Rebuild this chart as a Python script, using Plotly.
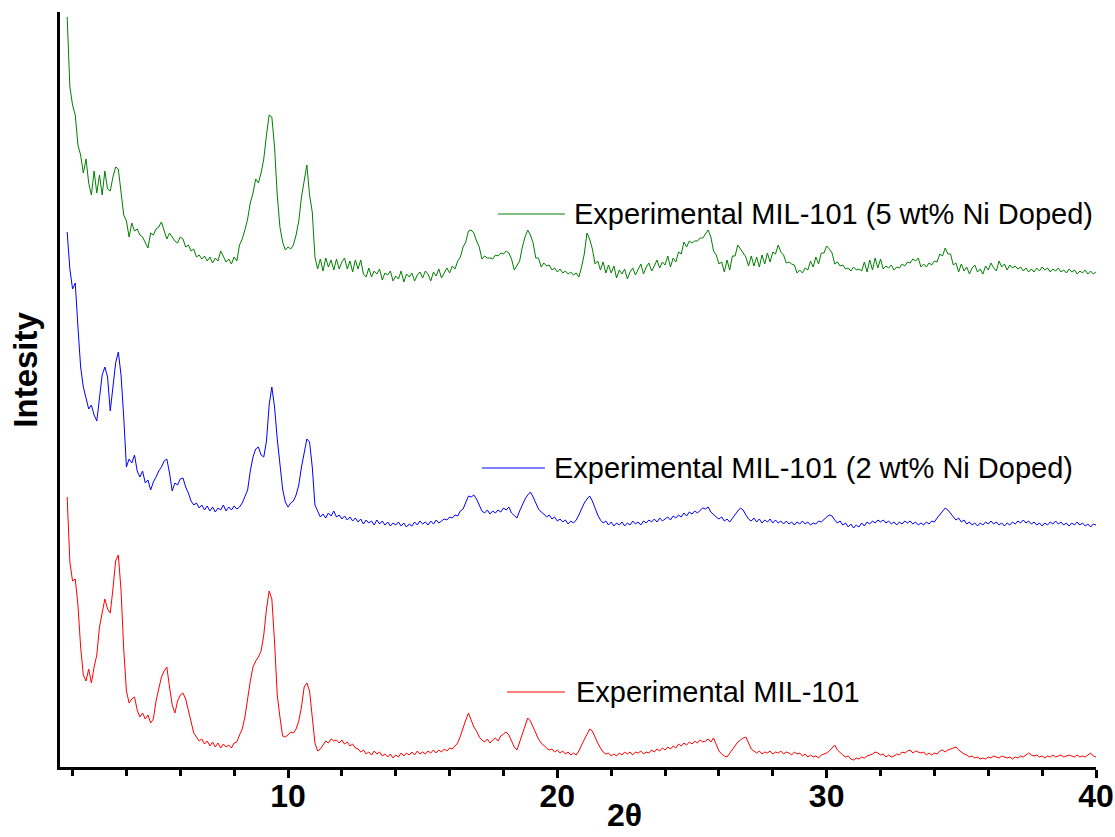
import plotly.graph_objects as go

# 2-theta sampling: 1.8 .. 40.0 in 0.1 deg steps
THETA_START = 1.8
THETA_STEP = 0.1

# Intensity (a.u.), as displayed (already vertically offset)
green_5wt = [
    750, 680,
    662, 652, 622, 612, 594, 608, 584, 572, 596, 574,
    592, 572, 596, 578, 576, 590, 600, 598, 575, 552,
    546, 530, 544, 536, 538, 532, 530, 524, 519, 534,
    532, 538, 540, 545, 536, 528, 534, 530, 526, 524,
    530, 528, 520, 522, 516, 518, 510, 512, 508, 511,
    506, 510, 504, 509, 506, 516, 510, 505, 508, 503,
    510, 506, 522, 528, 537, 548, 564, 574, 588, 584,
    594, 608, 632, 652, 650, 620, 572, 540, 525, 517,
    520, 518, 522, 532, 546, 570, 586, 602, 572, 555,
    510, 498, 508, 496, 509, 500, 507, 497, 508, 498,
    505, 509, 498, 506, 495, 507, 498, 507, 493, 490,
    499, 490, 496, 493, 498, 487, 494, 492, 496, 486,
    491, 488, 496, 485, 493, 490, 494, 486, 492, 495,
    489, 496, 493, 486, 495, 491, 498, 489, 494, 499,
    494, 501, 498, 506, 510, 520, 525, 536, 537, 534,
    526, 520, 508, 511, 509, 509, 508, 512, 511, 514,
    513, 516, 514, 508, 497, 502, 506, 520, 530, 537,
    532, 524, 509, 509, 500, 504, 501, 502, 497, 499,
    495, 498, 494, 496, 493, 495, 492, 494, 490, 500,
    513, 534, 528, 518, 503, 506, 497, 505, 494, 502,
    494, 501, 489, 497, 493, 498, 488, 495, 499, 492,
    497, 503, 493, 500, 504, 496, 501, 507, 499, 505,
    502, 511, 500, 509, 505, 515, 513, 525, 520, 526,
    524, 526, 526, 529, 529, 533, 537, 530, 516, 512,
    503, 505, 495, 507, 497, 511, 511, 522, 518, 514,
    510, 501, 511, 501, 510, 500, 512, 503, 514, 505,
    515, 513, 522, 515, 512, 504, 505, 503, 502, 494,
    497, 494, 499, 497, 506, 500, 510, 503, 514, 514,
    521, 518, 514, 503, 505, 501, 502, 498, 499, 496,
    500, 497, 498, 496, 505, 495, 507, 497, 509, 499,
    508, 498, 501, 499, 502, 497, 500, 499, 503, 501,
    505, 504, 508, 506, 509, 500, 503, 500, 504, 502,
    506, 505, 513, 511, 519, 513, 513, 502, 504, 495,
    503, 496, 500, 493, 499, 502, 495, 498, 493, 501,
    497, 504, 499, 496, 506, 500, 503, 497, 502, 499,
    501, 498, 500, 496, 499, 495, 498, 495, 499, 496,
    500, 497, 499, 495, 498, 496, 499, 495, 497, 494,
    498, 495, 497, 493, 496, 494, 497, 493, 496, 493,
    495,
]

blue_2wt = [
    535, 498,
    478, 484, 440, 400, 380, 368, 358, 362, 352, 346,
    368, 392, 400, 390, 356, 380, 404, 415, 392, 350,
    300, 308, 304, 312, 296, 290, 296, 284, 287, 277,
    285, 290, 296, 300, 306, 308, 294, 276, 284, 282,
    288, 289, 280, 274, 266, 262, 264, 259, 262, 257,
    261, 256, 260, 255, 259, 257, 262, 256, 260, 257,
    261, 258, 260, 264, 270, 277, 296, 310, 318, 320,
    312, 310, 326, 362, 380, 360, 328, 300, 278, 265,
    260, 264, 266, 272, 282, 300, 316, 328, 325, 300,
    262, 255, 250, 253, 249, 254, 251, 256, 250, 252,
    248, 251, 247, 250, 246, 249, 245, 248, 243, 247,
    244, 246, 242, 247, 243, 246, 242, 245, 241, 244,
    242, 245, 241, 244, 240, 243, 241, 245, 242, 246,
    243, 245, 242, 246, 243, 247, 244, 246, 248, 247,
    250, 249, 252, 251, 256, 258, 264, 271, 270, 272,
    268, 261, 256, 254, 257, 253, 256, 254, 257, 255,
    259, 257, 260, 254, 251, 249, 256, 262, 268, 272,
    275, 270, 264, 258, 255, 253, 250, 252, 248, 250,
    246, 248, 245, 247, 243, 246, 244, 247, 252, 258,
    264, 268, 271, 266, 258, 252, 247, 244, 246, 242,
    245, 241, 244, 242, 245, 241, 244, 242, 246, 243,
    245, 242, 246, 244, 247, 245, 248, 245, 249, 246,
    248, 250, 247, 251, 249, 252, 250, 254, 251, 255,
    253, 256, 254, 257, 259, 258, 260, 255, 252, 250,
    248, 250, 246, 248, 245, 249, 252, 256, 259, 257,
    252, 248, 246, 249, 245, 248, 244, 247, 245, 248,
    244, 247, 244, 246, 243, 246, 243, 245, 242, 245,
    243, 246, 243, 245, 242, 244, 243, 246, 245, 248,
    250, 252, 251, 247, 244, 246, 242, 244, 240, 243,
    239, 242, 240, 244, 241, 245, 243, 246, 244, 247,
    245, 247, 244, 246, 243, 245, 242, 245, 243, 246,
    244, 246, 243, 245, 242, 244, 242, 245, 243, 246,
    245, 249, 252, 256, 259, 257, 254, 250, 247, 249,
    245, 247, 243, 245, 242, 244, 241, 244, 242, 245,
    243, 246, 243, 245, 242, 244, 241, 244, 242, 245,
    243, 246, 244, 247, 244, 246, 243, 245, 242, 244,
    241, 244, 242, 245, 243, 246, 243, 245, 242, 244,
    241, 244, 242, 245, 242, 244, 241, 243, 240, 243,
    242,
]

red_mil101 = [
    270, 205,
    186, 188, 162, 120, 92, 86, 98, 84, 100, 112,
    140, 156, 168, 158, 154, 178, 206, 212, 177, 118,
    76, 64, 68, 70, 57, 50, 54, 48, 52, 44,
    48, 66, 80, 90, 96, 100, 80, 62, 54, 66,
    72, 74, 68, 56, 44, 34, 30, 26, 28, 23,
    26, 21, 25, 20, 24, 19, 23, 20, 22, 19,
    24, 25, 32, 38, 50, 70, 86, 100, 106, 110,
    116, 132, 158, 176, 168, 125, 72, 50, 31, 30,
    32, 35, 34, 38, 46, 60, 80, 84, 76, 50,
    24, 16, 18, 22, 26, 24, 28, 26, 27, 24,
    27, 23, 25, 21, 23, 19, 18, 15, 17, 13,
    15, 12, 16, 13, 15, 11, 13, 10, 13, 9,
    12, 10, 14, 11, 14, 12, 15, 12, 16, 13,
    15, 13, 16, 14, 17, 14, 17, 15, 18, 16,
    19, 18, 21, 24, 31, 40, 47, 54, 46, 40,
    36, 30, 27, 25, 28, 24, 27, 29, 26, 31,
    33, 35, 32, 25, 20, 17, 25, 34, 42, 49,
    46, 40, 34, 28, 24, 21, 19, 17, 18, 15,
    17, 14, 16, 13, 15, 12, 14, 12, 16, 22,
    27, 33, 38, 36, 29, 24, 19, 15, 13, 14,
    11, 13, 11, 14, 12, 15, 13, 15, 12, 15,
    14, 16, 13, 15, 14, 17, 15, 18, 16, 19,
    17, 20, 18, 21, 19, 23, 21, 24, 22, 25,
    23, 26, 24, 27, 25, 26, 28, 25, 29, 22,
    16, 13, 11, 10, 14, 18, 22, 25, 27, 29,
    30, 24, 18, 16, 14, 16, 13, 15, 14, 16,
    13, 15, 14, 16, 13, 15, 14, 12, 15, 13,
    14, 11, 13, 10, 12, 10, 11, 9, 12, 13,
    14, 16, 19, 22, 17, 14, 12, 10, 11, 8,
    7, 9, 8, 10, 9, 11, 12, 13, 15, 14,
    12, 13, 10, 12, 10, 11, 13, 12, 15, 14,
    16, 17, 14, 16, 15, 14, 15, 12, 14, 12,
    14, 13, 16, 17, 15, 17, 18, 19, 20, 17,
    15, 13, 12, 10, 11, 9, 10, 8, 9, 8,
    10, 9, 11, 10, 9, 11, 10, 9, 10, 8,
    10, 9, 11, 10, 12, 14, 12, 11, 12, 10,
    11, 9, 11, 10, 12, 10, 11, 12, 10, 11,
    12, 11, 10, 12, 10, 11, 10, 12, 14, 11,
    10,
]

series_names = [
    "Experimental MIL-101 (5 wt% Ni Doped)",
    "Experimental MIL-101 (2 wt% Ni Doped)",
    "Experimental MIL-101",
]
series_values = [green_5wt, blue_2wt, red_mil101]
series_colors = ["#008000", "#0000FF", "#FF0000"]

# label placement (2-theta of sample line start/end, text start, intensity level)
label_pos = [
    (17.80, 20.28, 20.55, 553),
    (17.20, 19.54, 19.81, 299),
    (18.13, 20.28, 20.62, 75),
]

x_tick_step = 10
x_minor_step = 2
x_range = [1.534, 40]
y_range = [0, 755]

FONT = "Liberation Sans, Arial, sans-serif"


def theta_grid(n):
    return [round(THETA_START + THETA_STEP * i, 1) for i in range(n)]


fig = go.Figure()
for name, vals, col in zip(series_names, series_values, series_colors):
    fig.add_trace(go.Scatter(
        x=theta_grid(len(vals)), y=vals, mode="lines", name=name,
        line=dict(color=col, width=1), showlegend=False,
    ))

shapes = []
annotations = []
for name, col, (x0, x1, xt, yl) in zip(series_names, series_colors, label_pos):
    shapes.append(dict(type="line", xref="x", yref="y", x0=x0, x1=x1, y0=yl, y1=yl,
                       line=dict(color=col, width=1)))
    annotations.append(dict(text=name, xref="x", yref="y", x=xt, y=yl,
                            xanchor="left", yanchor="middle", showarrow=False,
                            font=dict(family=FONT, size=29, color="black")))

annotations.append(dict(text="2θ", xref="paper", yref="paper", x=0.545, y=-0.064,
                        xanchor="center", yanchor="middle", showarrow=False,
                        font=dict(family=FONT, size=32, color="black", weight="bold")))
annotations.append(dict(text="Intesity", xref="paper", yref="paper", x=-0.033, y=0.526,
                        xanchor="center", yanchor="middle", showarrow=False, textangle=-90,
                        font=dict(family=FONT, size=33, color="black", weight="bold")))

fig.update_layout(
    width=1115, height=837, autosize=False,
    margin=dict(l=60, r=19, t=12, b=70),
    paper_bgcolor="white", plot_bgcolor="white",
    font=dict(family=FONT, color="black"),
    shapes=shapes, annotations=annotations,
    xaxis=dict(
        range=x_range, showline=True, linewidth=3, linecolor="black",
        ticks="outside", ticklen=8, tickwidth=2.5, tickcolor="black",
        tickmode="linear", tick0=0, dtick=x_tick_step,
        tickfont=dict(family=FONT, size=32, color="black", weight="bold"),
        ticklabelstandoff=-9,
        minor=dict(ticks="outside", ticklen=6, tickwidth=2.5, tickcolor="black",
                   tickmode="linear", tick0=0, dtick=x_minor_step, showgrid=False),
        showgrid=False, zeroline=False, automargin=False,
    ),
    yaxis=dict(
        range=y_range, showline=True, linewidth=3, linecolor="black",
        ticks="", showticklabels=False, showgrid=False, zeroline=False,
        automargin=False,
    ),
)

fig.write_html("out.html")
